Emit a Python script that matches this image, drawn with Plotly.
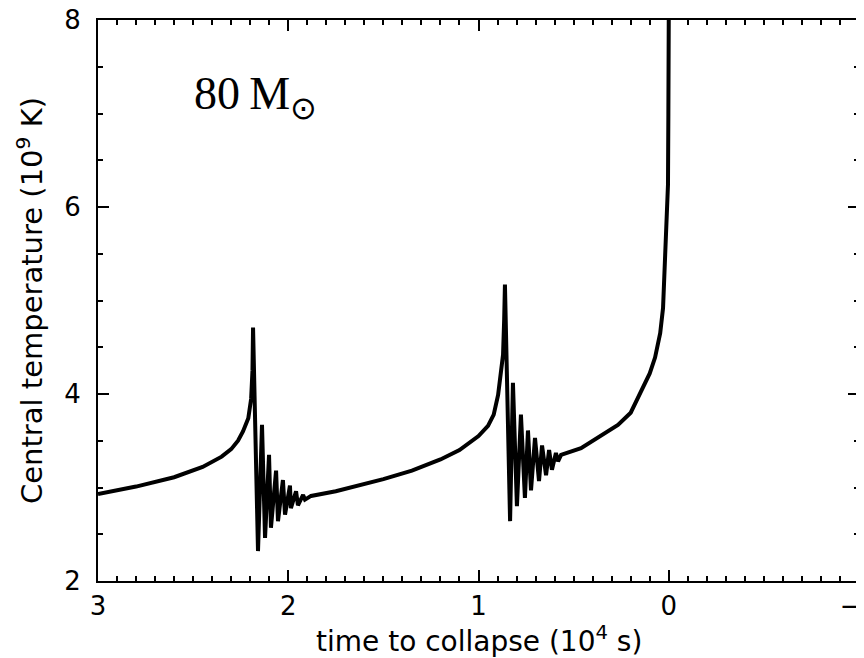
"""
Central temperature vs time to collapse, 80 Msun model
"""

import plotly.graph_objects as go

# --- data (time to collapse in 1e4 s, central temperature in 1e9 K) ---

# slow rise before the first pulse
rise1_t = [3.0, 2.8, 2.6, 2.45, 2.35, 2.3, 2.264, 2.238, 2.21, 2.195, 2.188, 2.185]
rise1_T = [2.93, 3.01, 3.11, 3.22, 3.33, 3.41, 3.50, 3.60, 3.74, 3.95, 4.25, 4.71]

# ringing after the first pulse (max / min extrema)
pulse1_t = [2.159, 2.138, 2.122, 2.101, 2.091, 2.064, 2.054, 2.028, 2.017,
            1.991, 1.986, 1.959, 1.949, 1.922, 1.912, 1.88]
pulse1_T = [2.32, 3.67, 2.46, 3.35, 2.57, 3.18, 2.64, 3.08, 2.71,
            3.02, 2.78, 2.96, 2.81, 2.92, 2.87, 2.91]

# between the pulses
inter_t = [1.75, 1.633, 1.5, 1.35, 1.2, 1.1, 1.0, 0.95, 0.92, 0.897, 0.871, 0.865, 0.861]
inter_T = [2.96, 3.02, 3.09, 3.18, 3.30, 3.40, 3.55, 3.66, 3.78, 3.99, 4.42, 4.80, 5.17]

# ringing after the second pulse
pulse2_t = [0.834, 0.819, 0.798, 0.777, 0.756, 0.740, 0.724, 0.703, 0.682,
            0.666, 0.645, 0.629, 0.614, 0.593, 0.582, 0.566]
pulse2_T = [2.64, 4.12, 2.80, 3.78, 2.89, 3.61, 2.97, 3.53, 3.07,
            3.45, 3.13, 3.40, 3.19, 3.37, 3.28, 3.35]

# final collapse
final_t = [0.461, 0.372, 0.267, 0.2, 0.146, 0.1, 0.072, 0.045, 0.03, 0.014, 0.004, 0.002, 0.0]
final_T = [3.42, 3.53, 3.67, 3.80, 4.03, 4.22, 4.39, 4.65, 4.92, 5.64, 6.24, 7.0, 8.0]

x_ticks = [3, 2, 1, 0, -1]
x_labels = ["3", "2", "1", "0", "\u22121"]
y_ticks = [2, 4, 6, 8]

time_pts = rise1_t + pulse1_t + inter_t + pulse2_t + final_t
temp_pts = rise1_T + pulse1_T + inter_T + pulse2_T + final_T

TICK_FONT = dict(family="DejaVu Sans, sans-serif", size=26, color="black")
TITLE_FONT = dict(family="DejaVu Sans, sans-serif", size=29, color="black")
XTITLE_FONT = dict(family="DejaVu Sans, sans-serif", size=28, color="black")

fig = go.Figure()
fig.add_trace(go.Scatter(
    x=time_pts,
    y=temp_pts,
    mode="lines",
    line=dict(color="black", width=4),
    showlegend=False,
))

axis_common = dict(
    showgrid=False,
    zeroline=False,
    showline=True,
    linecolor="black",
    linewidth=2,
    mirror="ticks",
    ticks="inside",
    ticklen=11,
    tickwidth=1.5,
    tickcolor="black",
    tickfont=TICK_FONT,
    ticklabeloverflow="allow",
    automargin=False,
)

fig.update_xaxes(
    range=[3, -1],
    tickvals=x_ticks,
    ticktext=x_labels,
    minor=dict(dtick=0.1, ticks="inside", ticklen=5, tickwidth=1.5, tickcolor="black"),
    ticklabelstandoff=1,
    **axis_common,
)
fig.update_yaxes(
    range=[2, 8],
    tickvals=y_ticks,
    minor=dict(dtick=0.5, ticks="inside", ticklen=5, tickwidth=1.5, tickcolor="black"),
    ticklabelstandoff=10,
    title=dict(text="Central temperature (10<sup>9</sup> K)", font=TITLE_FONT, standoff=13),
    **axis_common,
)

# x-axis title as an annotation so it sits close under the tick labels
fig.add_annotation(
    text="time to collapse (10<sup>4</sup> s)",
    xref="paper", yref="paper",
    x=0.5, y=-0.104,
    xanchor="center", yanchor="middle",
    showarrow=False,
    font=XTITLE_FONT,
)

fig.add_annotation(
    text="80\u2009M<sub>\u2299</sub>",
    xref="paper", yref="paper",
    x=0.124, y=0.862,
    xanchor="left", yanchor="middle",
    showarrow=False,
    font=dict(family="Liberation Serif, Times New Roman, serif", size=46, color="black"),
)

fig.update_layout(
    width=864,
    height=658,
    margin=dict(l=90, r=13, t=12, b=85, autoexpand=False),
    paper_bgcolor="white",
    plot_bgcolor="white",
)

fig.write_html("out.html")
